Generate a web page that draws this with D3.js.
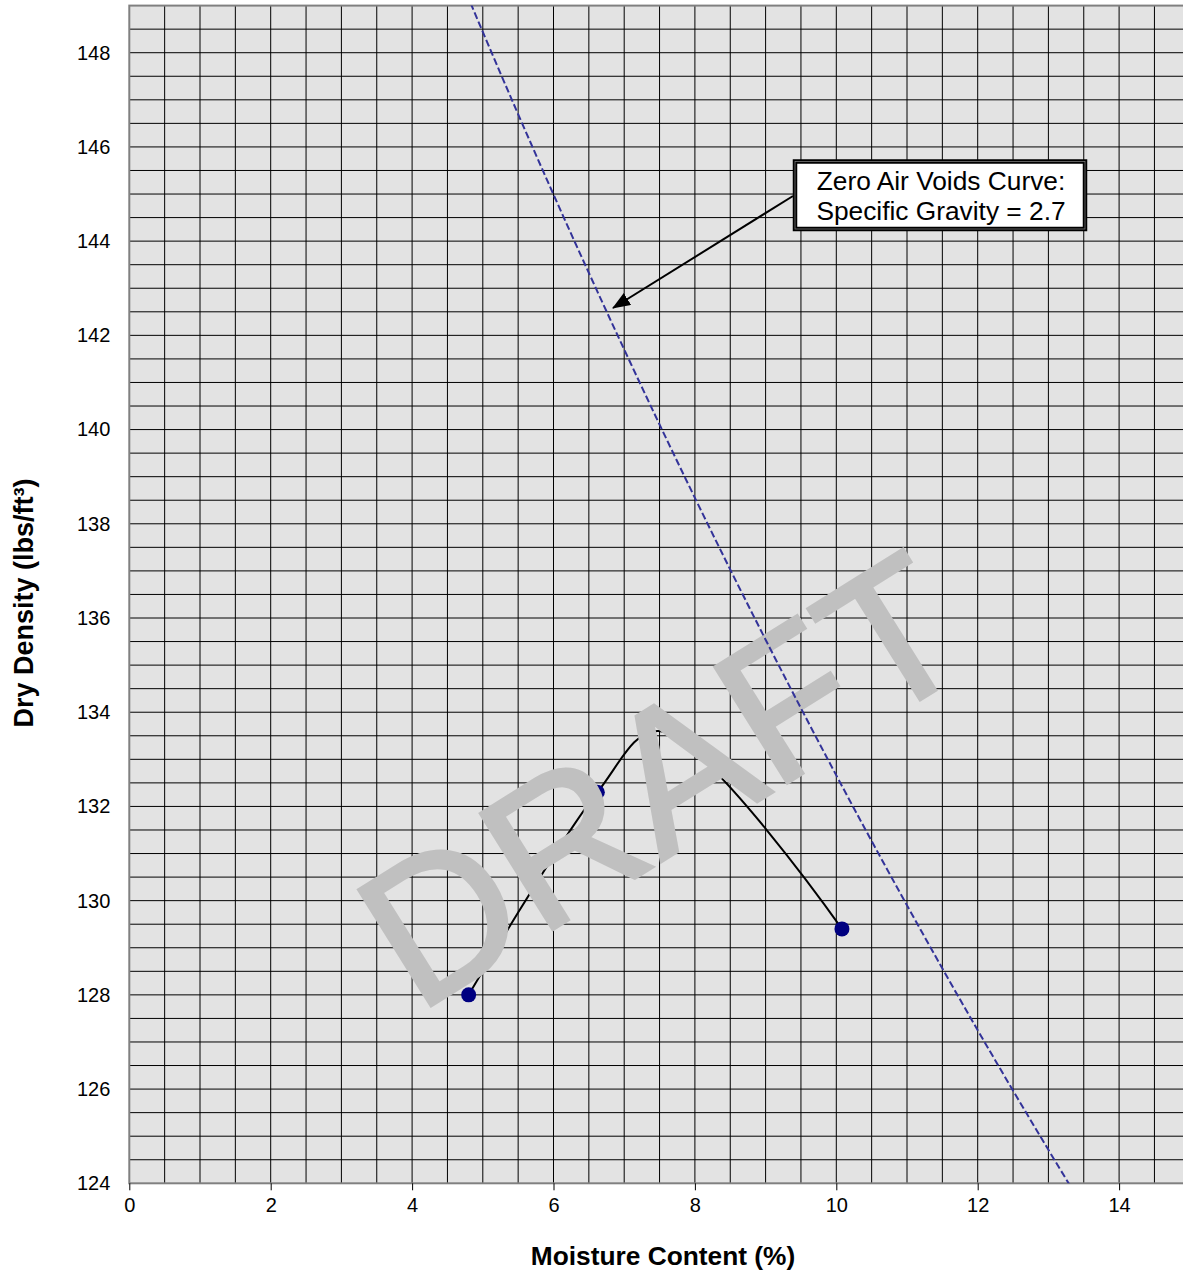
<!DOCTYPE html>
<html>
<head>
<meta charset="utf-8">
<script src="https://cdn.jsdelivr.net/npm/d3@7"></script>
<style>
  html, body { margin: 0; padding: 0; background: #ffffff; overflow: hidden; }
  svg { display: block; font-family: "Liberation Sans", Arial, sans-serif; }
</style>
</head>
<body>
<svg id="chart" width="1183" height="1272"></svg>
<script>
// ---- data ----
const moisture = [4.8, 6.62, 10.08];          // % (test points)
const dryDensity = [128.0, 132.3, 129.4];     // lbs/ft3
const curveMoisture = [4.8, 6.62, 7.48, 10.08];
const curveDensity = [128.0, 132.3, 133.6, 129.4];
const zavMoisture = [4.5, 5, 6, 7, 8, 9, 10, 11, 12, 13, 14];
const zavDensity = [150.23, 148.44, 144.99, 141.70, 138.55, 135.54, 132.66, 129.90, 127.25, 124.71, 122.26];
const xTicks = [0, 2, 4, 6, 8, 10, 12, 14];
const yTicks = [124, 126, 128, 130, 132, 134, 136, 138, 140, 142, 144, 146, 148];
const xTitle = "Moisture Content (%)";
const yTitle = "Dry Density (lbs/ft³)";
const noteLines = ["Zero Air Voids Curve:", "Specific Gravity = 2.7"];
const watermark = "DRAFT";

// ---- layout ----
const svg = d3.select("#chart");
const pL = 129.3, pT = 5.6, pR = 1189.8, pB = 1183.3;
const x = d3.scaleLinear().domain([0, 15]).range([pL, pR]);
const y = d3.scaleLinear().domain([124, 149]).range([pB, pT]);

const defs = svg.append("defs");
defs.append("clipPath").attr("id", "plotclip")
  .append("rect").attr("x", pL).attr("y", pT).attr("width", pR - pL).attr("height", pB - pT);

// plot background
svg.append("rect").attr("x", pL).attr("y", pT).attr("width", pR - pL).attr("height", pB - pT)
  .attr("fill", "#e3e3e3");

// grid
const grid = svg.append("g");
const gxVals = d3.range(0.5, 15, 0.5);
const gyVals = d3.range(124.5, 149, 0.5);
grid.selectAll("line.gx").data(gxVals).join("line").attr("class", "gx")
  .attr("x1", d => x(d)).attr("x2", d => x(d)).attr("y1", pT).attr("y2", pB)
  .attr("stroke", "#000").attr("stroke-width", 1);
grid.selectAll("line.gy").data(gyVals).join("line").attr("class", "gy")
  .attr("x1", pL).attr("x2", pR).attr("y1", d => y(d)).attr("y2", d => y(d))
  .attr("stroke", "#000").attr("stroke-width", 1);

// plot border
svg.append("rect").attr("x", pL).attr("y", pT).attr("width", pR - pL).attr("height", pB - pT)
  .attr("fill", "none").attr("stroke", "#808080").attr("stroke-width", 2);

// x axis
const xAxis = d3.axisBottom(x).tickValues(xTicks).tickSize(7).tickPadding(8).tickFormat(d3.format("d"));
const gx = svg.append("g").attr("transform", `translate(0,${pB})`).call(xAxis);
gx.select(".domain").remove();
gx.selectAll(".tick line").attr("stroke", "#000");
gx.selectAll(".tick text").attr("font-size", 20).attr("fill", "#000")
  .attr("font-family", "Liberation Sans, Arial, sans-serif");

// y axis
const yAxis = d3.axisLeft(y).tickValues(yTicks).tickSize(0).tickPadding(19).tickFormat(d3.format("d"));
const gy = svg.append("g").attr("transform", `translate(${pL},0)`).call(yAxis);
gy.select(".domain").remove();
gy.selectAll(".tick text").attr("font-size", 20).attr("fill", "#000")
  .attr("font-family", "Liberation Sans, Arial, sans-serif");

// axis titles
svg.append("text").attr("x", 663).attr("y", 1265).attr("text-anchor", "middle")
  .attr("font-size", 26.3).attr("font-weight", "bold").text(xTitle);
svg.append("text").attr("transform", "translate(33,603) rotate(-90)").attr("text-anchor", "middle")
  .attr("font-size", 27).attr("font-weight", "bold").text(yTitle);

// compaction curve
const pts = curveMoisture.map((m, i) => [m, curveDensity[i]]);
svg.append("path").datum(pts)
  .attr("d", d3.line().x(d => x(d[0])).y(d => y(d[1])).curve(d3.curveCatmullRom.alpha(0.5)))
  .attr("fill", "none").attr("stroke", "#000").attr("stroke-width", 2);

// data points
svg.selectAll("circle.pt").data(moisture.map((m, i) => [m, dryDensity[i]])).join("circle")
  .attr("class", "pt")
  .attr("cx", d => x(d[0])).attr("cy", d => y(d[1])).attr("r", 7.5)
  .attr("fill", "#000080");

// watermark
svg.append("g").attr("transform", "translate(429,1007) rotate(-32)")
  .append("text").attr("x", -14).attr("y", 0).attr("font-size", 199)
  .attr("fill", "#c0c0c0").attr("stroke", "#c0c0c0").attr("stroke-width", 3)
  .attr("stroke-linejoin", "miter").text(watermark);

// zero air voids curve
const zav = zavMoisture.map((m, i) => [m, zavDensity[i]]);
svg.append("path").datum(zav).attr("clip-path", "url(#plotclip)")
  .attr("d", d3.line().x(d => x(d[0])).y(d => y(d[1])).curve(d3.curveMonotoneX))
  .attr("fill", "none").attr("stroke", "#333399").attr("stroke-width", 2)
  .attr("stroke-dasharray", "7,3");

// arrow
defs.append("marker").attr("id", "arrowhead")
  .attr("viewBox", "0 0 18 14").attr("refX", 17).attr("refY", 7)
  .attr("markerWidth", 18).attr("markerHeight", 14).attr("markerUnits", "userSpaceOnUse")
  .attr("orient", "auto")
  .append("path").attr("d", "M0,0 L18,7 L0,14 Z").attr("fill", "#000");
svg.append("line").attr("x1", 793).attr("y1", 196).attr("x2", 613).attr("y2", 308)
  .attr("stroke", "#000").attr("stroke-width", 2).attr("marker-end", "url(#arrowhead)");

// annotation box
svg.append("rect").attr("x", 795).attr("y", 161.5).attr("width", 290).attr("height", 67.5)
  .attr("fill", "#fff").attr("stroke", "#000").attr("stroke-width", 4.5);
svg.append("rect").attr("x", 795).attr("y", 161.5).attr("width", 290).attr("height", 67.5)
  .attr("fill", "none").attr("stroke", "#777").attr("stroke-width", 0.8);
svg.selectAll("text.note").data(noteLines).join("text").attr("class", "note")
  .attr("x", 941).attr("y", (d, i) => 190 + i * 30).attr("text-anchor", "middle")
  .attr("font-size", 26.3).attr("fill", "#000").text(d => d);
</script>
</body>
</html>
